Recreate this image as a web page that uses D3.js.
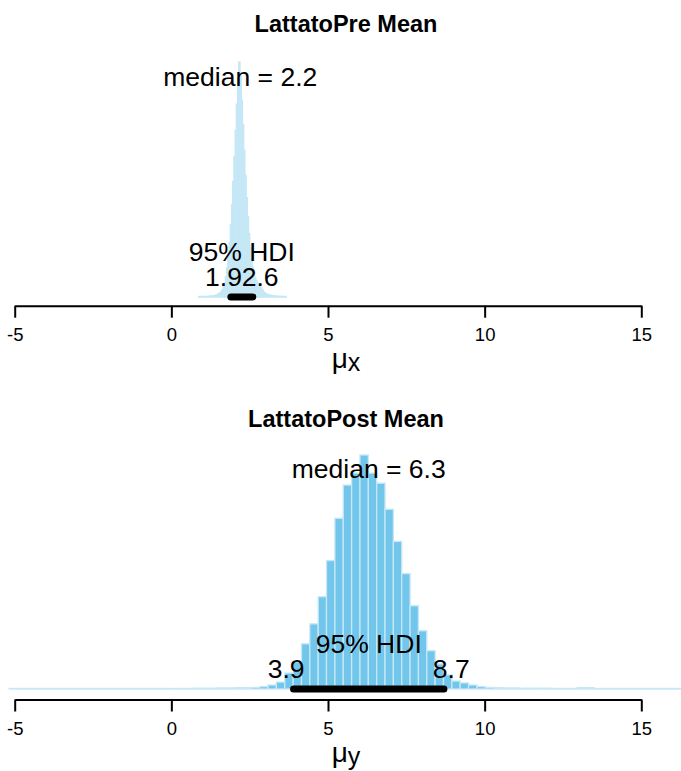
<!DOCTYPE html>
<html>
<head>
<meta charset="utf-8">
<script src="https://cdn.jsdelivr.net/npm/d3@7"></script>
<style>
  html, body { margin: 0; padding: 0; background: #fff; }
  svg { display: block; font-family: "Liberation Sans", Arial, Helvetica, sans-serif; }
</style>
</head>
<body>
<div id="chart"></div>
<script>
// ---------------- data ----------------
const xTicks = [-5, 0, 5, 10, 15];

const preTitle = "LattatoPre Mean";
const preMedian = 2.2;
const preHDI = [1.9, 2.6];
const preBinStart = 0.87;
const preBinWidth = (2.6 - 1.9) / 18;
// percent of posterior samples per bin
const prePct = [
  0.01,0.01,0.015,0.015,0.02,0.02,0.02,0.02,0.03,0.03,0.04,0.04,0.04,0.06,0.07,0.09,0.11,0.15,0.18,0.26,
  0.37,0.51,0.74,1.07,1.47,1.98,2.65,3.38,4.23,5.15,6.10,7.06,8.01,
  8.60,
  8.09,7.20,6.32,5.37,4.45,3.64,2.94,2.32,1.80,1.40,1.10,0.88,0.70,0.59,0.51,0.44,0.40,0.33,0.26,0.18,
  0.15,0.11,0.09,0.07,0.07,0.06,0.04,0.04,0.04,0.03,0.03,0.02,0.02,0.02,0.02,0.015,0.015,0.01
];

const postTitle = "LattatoPost Mean";
const postMedian = 6.3;
const postHDI = [3.9, 8.7];
const postBinStart = -5.18;
const postBinWidth = (8.7 - 3.9) / 18;
const postPct = [
  0.01,0.01,0.01,0.01,0.01,0.01,0.01,0.01,0.01,0.01,0.01,0.01,
  0.015,0.015,0.015,0.015,0.015,0.015,0.015,0.015,0.015,
  0.02,0.03,0.03,0.03,
  0.04,0.04,0.05,0.05,
  0.06,0.09,0.15,0.26,0.60,1.02,1.70,2.45,3.47,4.83,6.42,7.67,8.12,8.80,
  8.12,7.74,6.76,5.55,4.34,3.13,2.19,1.44,0.94,0.53,0.30,0.23,0.15,0.09,0.06,0.05,0.04,0.04,0.03,0.03,
  0.03,0.03,0.02,0.02,0.02,0.05,0.05,
  0.015,0.015,0.015,0.015,0.015,0.015,0.015,0.015,0.015,0.015,0.015,0.015,0.015
];

// ---------------- layout ----------------
const W = 681, H = 771;
const barFill = "#72c6ec";
const barStroke = "#c6e8f6";

const svg = d3.select("#chart").append("svg")
  .attr("width", W).attr("height", H);

const x = d3.scaleLinear().domain([-5, 15]).range([14.7, 641.3]);
const plotCenter = 346;

function panel(opt) {
  const g = svg.append("g");
  const dens = opt.pct.map(p => p / 100 / opt.binWidth);
  const maxD = d3.max(dens);
  const y = d3.scaleLinear().domain([0, maxD]).range([opt.base, opt.base - opt.peakH]);

  const bins = dens.map((d, i) => ({
    x0: opt.binStart + i * opt.binWidth,
    x1: opt.binStart + (i + 1) * opt.binWidth,
    d
  }));

  g.append("g").selectAll("rect").data(bins).join("rect")
    .attr("x", b => x(b.x0))
    .attr("width", b => x(b.x1) - x(b.x0))
    .attr("y", b => Math.min(y(b.d), opt.base - 0.5))
    .attr("height", b => Math.max(opt.base - y(b.d), 0.5))
    .attr("fill", barFill)
    .attr("stroke", barStroke)
    .attr("stroke-width", 1.3);

  // HDI bar
  g.append("line")
    .attr("x1", x(opt.hdi[0])).attr("x2", x(opt.hdi[1]))
    .attr("y1", opt.base).attr("y2", opt.base)
    .attr("stroke", "#000").attr("stroke-width", 7).attr("stroke-linecap", "round");

  // median text
  g.append("text")
    .attr("x", x(opt.median)).attr("y", y(0.9 * maxD))
    .attr("text-anchor", "middle").attr("font-size", 26.5)
    .text("median = " + opt.median.toFixed(1));

  // 95% HDI label
  g.append("text")
    .attr("x", x((opt.hdi[0] + opt.hdi[1]) / 2)).attr("y", opt.base - 36)
    .attr("text-anchor", "middle").attr("font-size", 26.5)
    .text("95% HDI");

  const lo = g.append("text")
    .attr("y", opt.base - 11).attr("font-size", 26.5)
    .text(opt.hdi[0].toFixed(1));
  lo.attr("x", x(opt.hdi[0]) - 0.7 * lo.node().getComputedTextLength());
  const hi = g.append("text")
    .attr("y", opt.base - 11).attr("font-size", 26.5)
    .text(opt.hdi[1].toFixed(1));
  hi.attr("x", x(opt.hdi[1]) - 0.3 * hi.node().getComputedTextLength());

  // axis
  const ax = g.append("g")
    .attr("transform", `translate(0,${opt.axisY})`)
    .call(d3.axisBottom(x).tickValues(xTicks).tickSize(12).tickSizeOuter(0).tickPadding(10.5)
      .tickFormat(d => String(d)));
  ax.select(".domain").attr("stroke", "#000").attr("stroke-width", 2);
  ax.selectAll(".tick line").attr("stroke", "#000").attr("stroke-width", 2);
  ax.selectAll(".tick text")
    .attr("font-size", 18.5).attr("fill", "#000")
    .attr("font-family", "'Liberation Sans', Arial, sans-serif");

  // axis title
  const t = g.append("text")
    .attr("x", plotCenter).attr("y", opt.axisY + 62)
    .attr("text-anchor", "middle");
  t.append("tspan").attr("font-size", 28).text("\u03BC");
  t.append("tspan").attr("font-size", 25).attr("dy", 3).text(opt.sub);

  // title
  g.append("text")
    .attr("x", plotCenter).attr("y", opt.titleY)
    .attr("text-anchor", "middle").attr("font-size", 23.5).attr("font-weight", "bold")
    .text(opt.title);
}

panel({
  title: preTitle, titleY: 32.3, sub: "x",
  pct: prePct, binStart: preBinStart, binWidth: preBinWidth,
  median: preMedian, hdi: preHDI,
  base: 297, peakH: 235, axisY: 305.7
});

panel({
  title: postTitle, titleY: 427, sub: "y",
  pct: postPct, binStart: postBinStart, binWidth: postBinWidth,
  median: postMedian, hdi: postHDI,
  base: 689, peakH: 234, axisY: 699.5
});
</script>
</body>
</html>
